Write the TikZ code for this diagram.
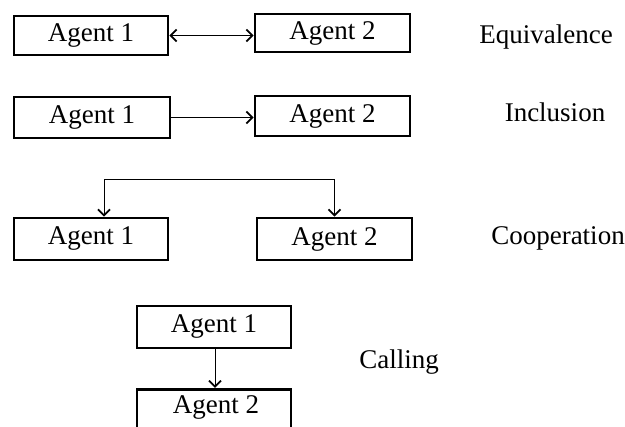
\documentclass[tikz,border=0pt]{standalone}
\usepackage{fontspec}
\setmainfont{Liberation Serif}
\usetikzlibrary{arrows.meta}
\begin{document}
\begin{tikzpicture}[x=1pt,y=-1pt,
  agentbox/.style={draw, line width=2.8pt, minimum width=154pt, minimum height=40pt, inner sep=0pt, font=\fontsize{27}{32}\selectfont},
  lbl/.style={font=\fontsize{27}{32}\selectfont, inner sep=0pt},
  conn/.style={line width=1pt, arrows={-Straight Barb[length=6pt,width=12pt,line width=1.8pt]}},
  dconn/.style={line width=1pt, arrows={Straight Barb[length=6pt,width=12pt,line width=1.8pt]-Straight Barb[length=6pt,width=12pt,line width=1.8pt]}}
]
\clip (0,0) rectangle (625,427);
\useasboundingbox (0,0) rectangle (625,427);
% Equivalence
\node[agentbox, minimum height=39pt] (e1) at (91,35.5) {Agent 1};
\node[agentbox, minimum height=38pt, minimum width=155pt] (e2) at (332.5,33) {Agent 2};
\draw[dconn] (e1.east) -- (e2.west |- e1.east);
\node[lbl] (le) at (546,37) {Equivalence};
% Inclusion
\node[agentbox, minimum height=41pt, minimum width=156pt] (i1) at (92,117.5) {Agent 1};
\node[agentbox, minimum width=155pt] (i2) at (332.5,116) {Agent 2};
\draw[conn] (i1.east) -- (i2.west |- i1.east);
\node[lbl] (li) at (555,112) {Inclusion};
% Cooperation
\node[agentbox, minimum height=42pt] (c1) at (91,239) {Agent 1};
\node[agentbox, minimum height=42pt, minimum width=155pt] (c2) at (334.5,239) {Agent 2};
\coordinate (ct) at ([xshift=13pt]c1.north);
\draw[dconn] (ct) -- ++(0,-37) -| (c2.north);
\node[lbl] (lc) at (558,238) {Cooperation};
% Calling
\node[agentbox, minimum height=42pt] (k1) at (214,327) {Agent 1};
\node[agentbox, minimum height=46pt, anchor=north] (k2) at (214,388) {};
\node[lbl] (k2t) at (216,407) {Agent 2};
\draw[conn] ([xshift=1pt]k1.south) -- ([xshift=1pt]k2.north);
\node[lbl] (lk) at (399,362) {Calling};
\end{tikzpicture}
\end{document}
